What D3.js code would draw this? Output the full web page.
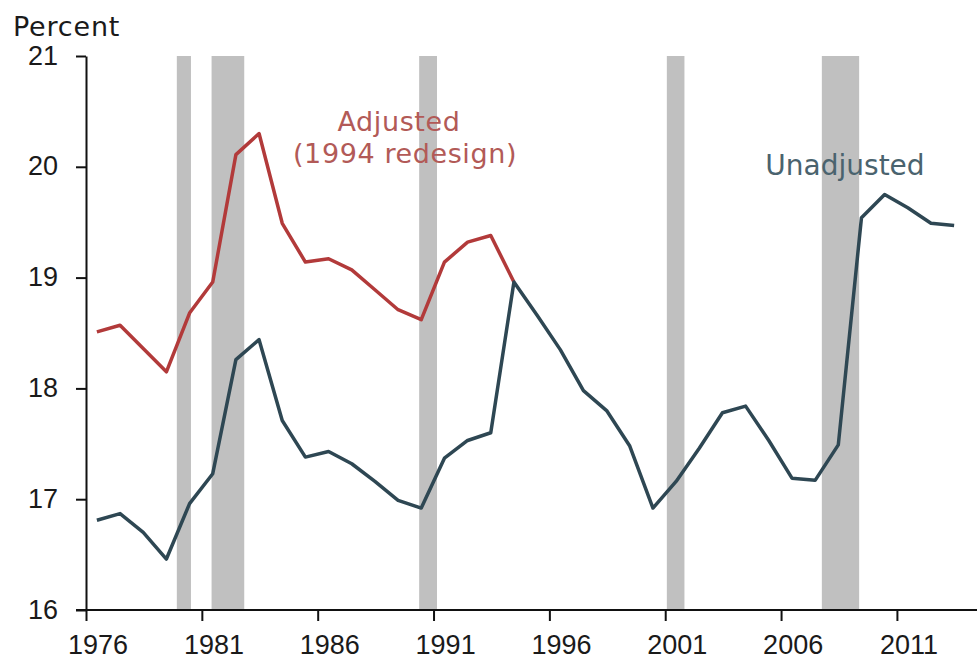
<!DOCTYPE html>
<html>
<head>
<meta charset="utf-8">
<script src="https://cdn.jsdelivr.net/npm/d3@7"></script>
<style>
  body { margin: 0; background: #fff; }
  svg { display: block; font-family: "DejaVu Sans", Verdana, sans-serif; }
</style>
</head>
<body>
<div id="chart"></div>
<script>
//////////
// DATA //
//////////

var years = d3.range(1976, 2014);
var unadjusted = [16.81, 16.87, 16.70, 16.46, 16.96, 17.23, 18.26, 18.44, 17.71, 17.38,
                  17.43, 17.32, 17.16, 16.99, 16.92, 17.37, 17.53, 17.60, 18.96, 18.66,
                  18.35, 17.98, 17.80, 17.48, 16.92, 17.16, 17.46, 17.78, 17.84, 17.53,
                  17.19, 17.17, 17.49, 19.54, 19.75, 19.63, 19.49, 19.47];
var adjustedYears = d3.range(1976, 1995);
var adjusted = [18.51, 18.57, 18.36, 18.15, 18.68, 18.96, 20.11, 20.30, 19.49, 19.14,
                19.17, 19.07, 18.89, 18.71, 18.62, 19.14, 19.32, 19.38, 18.96];
// recession periods (fractional years)
var recessions = [[1979.92, 1980.53], [1981.42, 1982.83], [1990.38, 1991.15],
                  [2001.07, 2001.83], [2007.76, 2009.37]];
var xTicks = [1976, 1981, 1986, 1991, 1996, 2001, 2006, 2011];
var yTicks = [16, 17, 18, 19, 20, 21];

//////////////////////////////
// SVG AND GRAPH DIMENSIONS //
//////////////////////////////

var svgWidth = 977, svgHeight = 660;
var margin = { top: 56, right: 0, bottom: 50, left: 86 };

var svg = d3.select("#chart").append("svg")
  .attr("width", svgWidth)
  .attr("height", svgHeight);

var x = d3.scaleLinear().domain([1976, 2014.5]).range([margin.left, 978]);
var y = d3.scaleLinear().domain([16, 21]).range([svgHeight - margin.bottom, margin.top]);

// points sit in the middle of each year
var mid = 0.47;

// recession bars
svg.selectAll(".rec")
  .data(recessions)
  .enter().append("rect")
  .attr("class", "rec")
  .attr("x", function (d) { return x(d[0]); })
  .attr("width", function (d) { return x(d[1]) - x(d[0]); })
  .attr("y", y(21))
  .attr("height", y(16) - y(21))
  .attr("fill", "#c0c0c0");

//////////
// AXES //
//////////

var xAxis = d3.axisBottom(x).tickValues(xTicks).tickFormat(d3.format("d"))
  .tickSizeInner(11).tickSizeOuter(0);
var gx = svg.append("g")
  .attr("transform", "translate(0," + y(16) + ")")
  .call(xAxis);
gx.select(".domain").remove();
gx.append("line")
  .attr("x1", margin.left - 10).attr("x2", svgWidth)
  .attr("stroke", "#111").attr("stroke-width", 2);
gx.selectAll(".tick line").attr("stroke", "#111").attr("stroke-width", 2);
// labels are centred on the year, ticks mark its start
gx.selectAll(".tick text")
  .attr("dx", x(1976 + 0.5) - x(1976))
  .attr("y", 25)
  .attr("dy", "0.71em")
  .attr("fill", "#1a1a1a")
  .style("font-size", "27px");

var yAxis = d3.axisLeft(y).tickValues(yTicks).tickFormat(d3.format("d"))
  .tickSizeInner(10).tickSizeOuter(0).tickPadding(18);
var gy = svg.append("g")
  .attr("transform", "translate(" + margin.left + ",0)")
  .call(yAxis);
gy.select(".domain").attr("stroke", "#111").attr("stroke-width", 2);
gy.selectAll(".tick line").attr("stroke", "#111").attr("stroke-width", 2);
gy.selectAll(".tick text")
  .attr("fill", "#1a1a1a")
  .attr("dy", "0.3em")
  .style("font-size", "27px");

svg.append("text")
  .attr("x", 13)
  .attr("y", 36)
  .attr("fill", "#1a1a1a")
  .style("font-size", "27px")
  .style("letter-spacing", "0.8px")
  .text("Percent");

///////////
// LINES //
///////////

var line = d3.line()
  .x(function (d) { return x(d.year + mid); })
  .y(function (d) { return y(d.value); });

svg.append("path")
  .datum(adjustedYears.map(function (yr, i) { return { year: yr, value: adjusted[i] }; }))
  .attr("fill", "none")
  .attr("stroke", "#b23a3a")
  .attr("stroke-width", 3.5)
  .attr("stroke-linejoin", "round")
  .attr("d", line);

svg.append("path")
  .datum(years.map(function (yr, i) { return { year: yr, value: unadjusted[i] }; }))
  .attr("fill", "none")
  .attr("stroke", "#2e4753")
  .attr("stroke-width", 3.5)
  .attr("stroke-linejoin", "round")
  .attr("d", line);

/////////////////
// ANNOTATIONS //
/////////////////

svg.append("text")
  .attr("x", 399).attr("y", 131)
  .attr("text-anchor", "middle")
  .attr("fill", "#b25a57")
  .style("font-size", "27px")
  .style("letter-spacing", "0.6px")
  .text("Adjusted");

svg.append("text")
  .attr("x", 405).attr("y", 163)
  .attr("text-anchor", "middle")
  .attr("fill", "#b25a57")
  .style("font-size", "27px")
  .style("letter-spacing", "0.6px")
  .text("(1994 redesign)");

svg.append("text")
  .attr("x", 845).attr("y", 175)
  .attr("text-anchor", "middle")
  .attr("fill", "#4a636e")
  .style("font-size", "28px")
  .text("Unadjusted");
</script>
</body>
</html>
